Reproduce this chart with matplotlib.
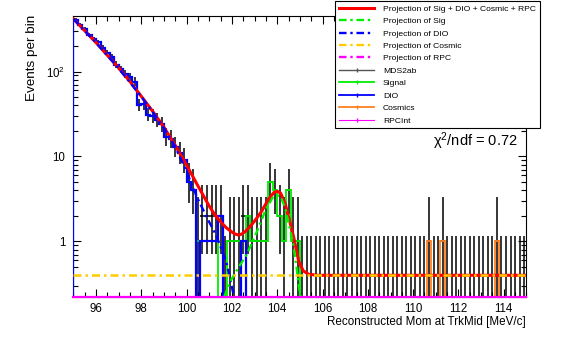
import numpy as np
import matplotlib
matplotlib.use("Agg")
import matplotlib.pyplot as plt
from matplotlib.lines import Line2D
from matplotlib.ticker import FixedLocator, MultipleLocator, FuncFormatter

plt.rcParams["font.family"] = ["Liberation Sans", "DejaVu Sans"]
plt.rcParams["mathtext.fontset"] = "custom"
plt.rcParams["mathtext.rm"] = "Liberation Sans"
plt.rcParams["mathtext.it"] = "Liberation Sans:italic"

# binning: 100 bins of 0.2 MeV/c
X_LO, X_HI, N_BINS = 95.0, 115.0, 100
Y_LO, Y_HI = 0.224, 444.0

# component histograms (counts per bin, bin 0 starts at 95.0)
dio_counts = [405, 350, 316, 268, 240, 222, 190, 164, 150, 120,
              106, 94, 87, 76, 40, 41, 31, 30, 27, 24,
              17, 16, 13, 11, 9, 5, 4, 0, 1, 1,
              1, 1, 2, 0, 0, 0, 0, 1] + [0] * 62
sig_counts = [0] * 27 + [1, 1, 1, 1, 1, 0, 0, 1, 1, 1,
                         1, 2, 1, 1, 1, 1, 5, 4, 2, 1,
                         4, 1, 1] + [0] * 50
cosmic_counts = [0] * N_BINS
cosmic_bins = {78: 1, 81: 1, 93: 1}   # 110.6, 111.2, 113.6
for b, c in cosmic_bins.items():
    cosmic_counts[b] = c
rpc_counts = [0] * N_BINS

# RooFit-style Poisson intervals for small counts
poisson_lo = [0.0, 0.173, 0.708, 1.367, 2.086, 2.840]
poisson_hi = [1.148, 3.300, 4.638, 5.918, 7.163, 8.382]

# fitted projections
tot_x = [95.0, 95.5, 96.0, 96.5, 97.0, 97.5, 98.0, 98.5, 99.0, 99.5,
         100.0, 100.5, 101.0, 101.25, 101.5, 101.75, 102.0, 102.15, 102.3,
         102.45, 102.6, 102.8, 103.0, 103.3, 103.6, 103.85, 104.0, 104.15,
         104.35, 104.55, 104.75, 104.95, 105.15, 105.4, 105.8, 115.0]
tot_y = [417, 302, 219, 155, 110, 76, 51, 34, 22, 13.5,
         7.9, 4.5, 2.6, 2.05, 1.7, 1.45, 1.29, 1.22, 1.19,
         1.23, 1.32, 1.5, 1.74, 2.24, 3.1, 3.76, 3.9, 3.7,
         2.8, 1.74, 1.05, 0.58, 0.45, 0.41, 0.40, 0.40]
dio_x = [95.0, 96.0, 97.0, 98.0, 98.5, 99.0, 99.5, 100.0, 100.44, 100.9,
         101.33, 101.77, 102.06, 102.15]
dio_y = [416, 218, 109, 50.5, 33.5, 21.5, 13, 6.6, 3.4, 1.9,
         1.14, 0.55, 0.245, 0.18]
sig_x = [101.65, 101.9, 102.3, 102.65, 103.1, 103.5, 103.8, 104.0, 104.15,
         104.35, 104.55, 104.7, 104.85, 104.95, 105.05]
sig_y = [0.22, 0.33, 0.5, 0.7, 1.3, 2.4, 3.3, 3.5, 3.35,
         2.5, 1.45, 0.95, 0.5, 0.3, 0.21]
cos_x = [95.0, 115.0]
cos_y = [0.40, 0.40]
rpc_x = [95.0, 115.0]
rpc_y = [0.02, 0.02]

edges = np.linspace(X_LO, X_HI, N_BINS + 1)
centers = 0.5 * (edges[:-1] + edges[1:])
dio = np.array(dio_counts, float)
sig = np.array(sig_counts, float)
cosm = np.array(cosmic_counts, float)
rpc = np.array(rpc_counts, float)
data = dio + sig + cosm + rpc


def poisson_band(n):
    n = int(n)
    if n < len(poisson_lo):
        return poisson_lo[n], poisson_hi[n]
    s = np.sqrt(n + 0.25)
    return n + 0.5 - s, n + 0.5 + s


fig = plt.figure(figsize=(5.72, 3.56), dpi=100)
ax = fig.add_axes([0.1283, 0.1666, 0.7920, 0.7871])
ax.set_yscale("log")
ax.set_xlim(X_LO, X_HI)
ax.set_ylim(Y_LO, Y_HI)

floor = Y_LO * 0.3

# data points with asymmetric Poisson errors
lo = np.array([poisson_band(n)[0] for n in data])
hi = np.array([poisson_band(n)[1] for n in data])
nz = data > 0
ax.errorbar(centers[nz], data[nz], xerr=0.1,
            yerr=[data[nz] - np.maximum(lo[nz], floor), hi[nz] - data[nz]],
            fmt="none", ecolor="black", elinewidth=1.1, capsize=0, zorder=2)
ax.vlines(centers[~nz], floor, hi[~nz], color="black", lw=1.1, zorder=2)

# component histograms
def stair(vals, color, lw, z):
    v = np.where(vals > 0, vals, floor)
    ax.stairs(v, edges, baseline=floor, color=color, lw=lw, zorder=z)

stair(sig, "#00ee00", 1.3, 3)
stair(dio, "#0000ff", 1.6, 3.1)
stair(cosm, "#ff8020", 1.3, 3.2)
stair(rpc, "#ff00ff", 0.8, 3.3)

# fit projections
dd = (3.2, 1.6, 1.0, 1.6)
ax.plot(tot_x, tot_y, color="#ff0000", lw=2.2, zorder=4)
ax.plot(dio_x, dio_y, color="#0000ff", lw=1.7, dashes=dd, zorder=5)
ax.plot(sig_x, sig_y, color="#00ee00", lw=1.7, dashes=dd, zorder=5)
ax.plot(cos_x, cos_y, color="#ffcc00", lw=1.8, dashes=dd, zorder=5)
ax.plot(rpc_x, np.maximum(rpc_y, Y_LO), color="#ff00ff", lw=1.6,
        zorder=6, clip_on=False)

# axes styling (ROOT look)
ax.xaxis.set_major_locator(MultipleLocator(2))
ax.xaxis.set_minor_locator(MultipleLocator(0.5))
ax.yaxis.set_major_locator(FixedLocator([1, 10, 100]))
ax.yaxis.set_minor_locator(FixedLocator(
    [m * d for d in (0.1, 1, 10, 100) for m in range(2, 10)]))
labels = {1: "1", 10: "10", 100: r"$\mathregular{10^{2}}$"}
ax.yaxis.set_major_formatter(FuncFormatter(lambda v, p: labels.get(int(round(v)), "")))
ax.yaxis.set_minor_formatter(FuncFormatter(lambda v, p: ""))
ax.tick_params(which="both", direction="in", top=True, right=True,
               width=0.8, labelsize=8.3)
ax.tick_params(which="major", length=6)
ax.tick_params(which="minor", length=3.6)
ax.tick_params(axis="x", pad=4.5)
ax.tick_params(axis="y", pad=6)
for s in ax.spines.values():
    s.set_linewidth(0.8)

fig.text(526 / 572, 1 - 322 / 356, "Reconstructed Mom at TrkMid [MeV/c]",
         ha="right", va="center", fontsize=8.4)
fig.text(32 / 572, 1 - 15 / 356, "Events per bin", rotation=90,
         ha="center", va="top", fontsize=9.7)
fig.text(517 / 572, 1 - 141 / 356, "χ$^{2}$/ndf = 0.72",
         ha="right", va="center", fontsize=10.5)

# legend
handles = [
    Line2D([], [], color="#ff0000", lw=2.2),
    Line2D([], [], color="#00ee00", lw=1.7, dashes=dd),
    Line2D([], [], color="#0000ff", lw=1.7, dashes=dd),
    Line2D([], [], color="#ffcc00", lw=1.7, dashes=dd),
    Line2D([], [], color="#ff00ff", lw=1.7, dashes=dd),
    Line2D([], [], color="#555555", lw=1.0, marker="|", ms=3),
    Line2D([], [], color="#00ee00", lw=1.3, marker="|", ms=3),
    Line2D([], [], color="#0000ff", lw=1.3, marker="|", ms=3),
    Line2D([], [], color="#ff8020", lw=1.3, marker="|", ms=3),
    Line2D([], [], color="#ff00ff", lw=0.8, marker="|", ms=3),
]
names = ["Projection of Sig + DIO + Cosmic + RPC", "Projection of Sig",
         "Projection of DIO", "Projection of Cosmic", "Projection of RPC",
         "MDS2ab", "Signal", "DIO", "Cosmics", "RPCInt"]
leg = fig.legend(handles, names, loc="upper left",
                 bbox_to_anchor=(335 / 572, 1 - 1 / 356), fontsize=6.1,
                 frameon=True, fancybox=False, edgecolor="black",
                 framealpha=1, handlelength=4.2, handletextpad=1.0,
                 labelspacing=0.53, borderpad=0.45, borderaxespad=0)
leg.get_frame().set_linewidth(0.8)
leg.set_zorder(10)

fig.savefig("out.png", dpi=100)
